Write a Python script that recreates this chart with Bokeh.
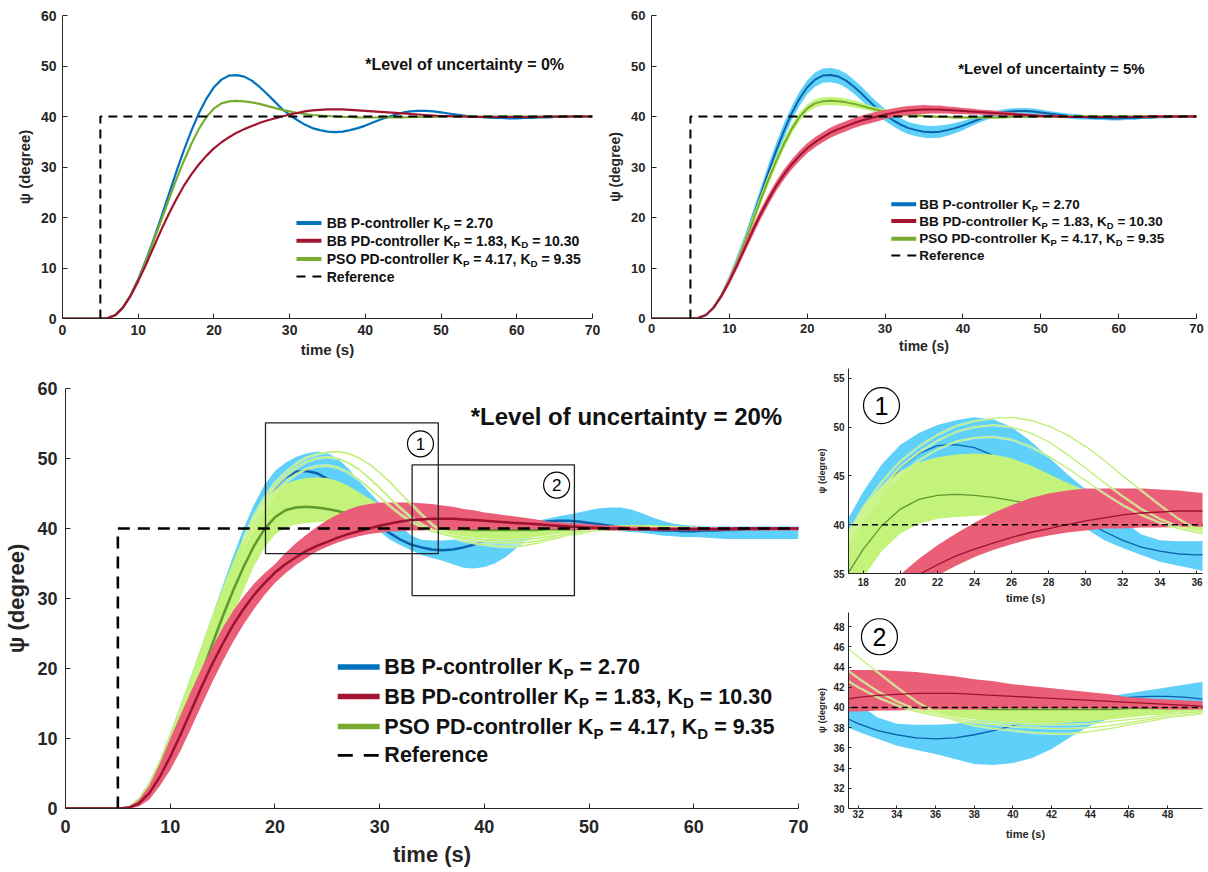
import numpy as np
from bokeh.plotting import figure
from bokeh.models import Range1d, FixedTicker, Label, BoxAnnotation
from bokeh.layouts import row, column
from bokeh.embed import file_html
from bokeh.resources import INLINE

FONT = "Liberation Sans"

# ---------------- data ----------------
time_s = list(range(71))

blue_nom = [0,0,0,0,0,0, 0.1,0.7,2.2,4.6,7.8, 11.5,15.5,19.9,24.4,28.9, 33.2,37.1,40.6,43.5,45.8,
            47.3,48.1,48.2,47.9,47.1, 45.9,44.5,43.0,41.5,40.3, 39.3,38.4,37.7,37.3,37.0,
            36.9,37.0,37.3,37.7,38.2, 38.8,39.4,39.9,40.4,40.8, 41.0,41.1,41.1,41.0,40.8,
            40.6,40.4,40.2,40.0,39.9, 39.8,39.7,39.7,39.6,39.6, 39.7,39.7,39.8,39.8,39.9,
            39.9,40.0,40.0,40.0,40.0]
red_nom = [0,0,0,0,0,0, 0.1,0.7,2.2,4.5,7.4, 10.6,14.0,17.4,20.6,23.5, 26.2,28.5,30.5,32.2,33.7,
           34.9,35.9,36.8,37.5,38.1, 38.7,39.2,39.6,40.0,40.4, 40.7,41.0,41.2,41.3,41.4,
           41.4,41.4,41.3,41.2,41.1, 41.0,40.9,40.8,40.7,40.6, 40.5,40.4,40.3,40.2,40.1,
           40.1,40.0,40.0,39.9,39.9, 39.9,39.9,39.9,39.9,39.9, 39.9,39.9,39.9,40.0,40.0,
           40.0,40.0,40.0,40.0,40.0]
green_nom = [0,0,0,0,0,0, 0.1,0.7,2.2,4.6,7.7, 11.3,15.2,19.3,23.4,27.4, 31.1,34.5,37.5,39.9,41.6,
             42.6,43.0,43.1,43.0,42.8, 42.5,42.1,41.7,41.3,41.0, 40.7,40.5,40.3,40.2,40.1,
             40.0,39.9,39.9,39.8,39.8, 39.8,39.8,39.8,39.8,39.8, 39.9,39.9,39.9,39.9,40.0,
             40.0,40.0,40.0,40.0,40.0, 40.0,40.0,40.0,40.0,40.0, 40.0,40.0,40.0,40.0,40.0,
             40.0,40.0,40.0,40.0,40.0]

# 5 % uncertainty: half-width of the bands
blue_spread5 = [0,0,0,0,0,0, 0.05,0.2,0.4,0.6,0.8, 1.0,1.1,1.3,1.4,1.5, 1.5,1.5,1.4,1.4,1.4,
                1.4,1.4,1.4,1.4,1.4, 1.4,1.4,1.3,1.3,1.2, 1.2,1.2,1.2,1.2,1.2, 1.2,1.2,1.1,1.0,0.9,
                0.8,0.7,0.6,0.6,0.6, 0.6,0.6,0.6,0.6,0.6, 0.5,0.5,0.5,0.5,0.5, 0.4,0.4,0.4,0.4,0.4,
                0.4,0.4,0.3,0.3,0.3, 0.3,0.3,0.3,0.3,0.3]
red_spread5 = [0,0,0,0,0,0, 0.05,0.15,0.3,0.5,0.7, 0.8,0.9,1.0,1.0,1.0, 1.0,1.0,1.0,1.0,1.0,
               1.0,1.0,1.0,1.0,1.0, 1.0,1.0,1.0,1.0,0.9, 0.9,0.9,0.9,0.9,0.9, 0.8,0.8,0.7,0.7,0.6,
               0.6,0.5,0.5,0.5,0.4, 0.4,0.3,0.3,0.3,0.3, 0.2,0.2,0.2,0.2,0.2, 0.2,0.2,0.2,0.2,0.2,
               0.2,0.2,0.2,0.2,0.2, 0.2,0.2,0.2,0.2,0.2]
green_spread5 = [0,0,0,0,0,0, 0.05,0.15,0.3,0.5,0.7, 0.8,0.9,1.0,1.0,1.0, 1.0,1.0,0.9,0.9,0.8,
                 0.8,0.8,0.8,0.8,0.7, 0.7,0.6,0.5,0.5,0.4, 0.4,0.3,0.3,0.3,0.2, 0.2,0.2,0.2,0.2,0.2,
                 0.2,0.2,0.2,0.2,0.2, 0.2,0.2,0.2,0.2,0.2, 0.2,0.2,0.2,0.2,0.2, 0.2,0.2,0.2,0.2,0.2,
                 0.2,0.2,0.2,0.2,0.2, 0.2,0.2,0.2,0.2,0.2]

# 20 % uncertainty: envelopes
blue20_hi = [0,0,0,0,0,0, 0.3,1.5,3.8,7.0,10.8, 14.8,19.0,23.3,27.5,31.8, 36.0,40.0,43.4,46.2,48.2,
             49.4,50.2,50.7,51.0,50.8, 50.0,48.6,46.9,45.2,43.6, 41.8,40.4,39.0,38.4,38.3,
             38.3,38.4,38.7,39.0,39.4, 39.9,40.2,40.5,40.8,41.1, 41.4,41.7,42.0,42.3,42.6,
             42.9,43.0,43.0,42.7,42.2, 41.6,41.1,40.7,40.5,40.4, 40.3,40.3,40.3,40.3,40.3,
             40.3,40.3,40.3,40.3,40.3]
blue20_lo = [0,0,0,0,0,0, 0.0,0.4,1.5,3.5,6.5, 9.8,13.5,17.5,21.5,25.5, 29.5,33.5,37.0,39.8,41.8,
             43.2,44.0,44.4,44.4,44.0, 43.2,42.2,41.2,40.3,39.6, 38.4,37.6,36.9,36.2,35.8,
             35.4,34.9,34.4,34.3,34.5, 35.0,35.9,37.1,38.2,38.9, 39.3,39.5,39.6,39.6,39.7,
             39.7,39.7,39.6,39.5,39.4, 39.2,39.0,38.9,38.8,38.8, 38.7,38.6,38.5,38.5,38.5,
             38.5,38.5,38.5,38.5,38.5]
green20_hi = [0,0,0,0,0,0, 0.3,1.5,3.8,7.0,10.8, 14.8,19.0,23.3,27.5,31.5, 35.3,38.8,41.8,44.0,45.5,
              46.4,46.9,47.2,47.3,47.2, 46.8,46.1,45.2,44.3,43.5, 42.8,42.1,41.5,41.0,40.7,
              40.5,40.4,40.3,40.2,40.2, 40.2,40.2,40.2,40.2,40.2, 40.2,40.2,40.2,40.2,40.3,
              40.3,40.4,40.5,40.5,40.5, 40.5,40.4,40.4,40.3,40.3, 40.2,40.2,40.2,40.2,40.2,
              40.2,40.2,40.2,40.2,40.2]
green20_lo = [0,0,0,0,0,0, 0.0,0.3,1.3,3.2,5.8, 8.8,12.2,15.8,19.6,23.4, 27.3,31.2,34.6,37.3,39.1,
              40.1,40.6,40.8,40.9,41.0, 41.0,40.9,40.8,40.6,40.4, 40.2,40.0,39.9,39.8,39.6,
              39.3,39.0,38.8,38.6,38.5, 38.4,38.4,38.5,38.6,38.8, 39.0,39.2,39.3,39.4,39.5,
              39.6,39.7,39.7,39.8,39.8, 39.9,39.9,39.9,39.9,39.9, 39.9,39.9,39.9,39.9,39.9,
              39.9,39.9,39.9,39.9,39.9]
red20_hi = [0,0,0,0,0,0, 0.2,1.2,3.3,6.4,10.0, 13.4,16.8,20.0,23.0,25.8, 28.2,30.3,32.1,33.6,34.9,
            36.5,37.9,39.1,40.2,41.2, 42.0,42.7,43.2,43.5,43.7, 43.7,43.7,43.7,43.6,43.5,
            43.3,43.1,42.8,42.6,42.3, 42.1,41.9,41.7,41.5,41.3, 41.0,40.9,40.8,40.7,40.6,
            40.5,40.4,40.4,40.3,40.3, 40.2,40.2,40.2,40.2,40.2, 40.2,40.2,40.2,40.2,40.2,
            40.2,40.2,40.2,40.2,40.2]
red20_lo = [0,0,0,0,0,0, 0.0,0.3,1.3,3.2,5.5, 8.3,11.5,14.8,18.0,21.0, 23.8,26.3,28.5,30.5,32.2,
            33.6,34.8,35.8,36.7,37.4, 38.0,38.5,38.9,39.2,39.4, 39.6,39.6,39.7,39.7,39.8,
            39.8,39.8,39.8,39.9,39.9, 39.9,39.9,39.9,39.9,39.9, 39.9,39.9,39.8,39.8,39.8,
            39.8,39.7,39.7,39.7,39.7, 39.7,39.7,39.7,39.7,39.7, 39.7,39.7,39.7,39.7,39.7,
            39.7,39.7,39.7,39.7,39.7]

# a few individual PSO runs that stand out from the 20 % band
time_runs = list(range(17, 51))
pso_run1 = [38.5,41.8,44.4,46.5,48.0, 49.2,50.1,50.6,50.9,51.0, 50.7,50.1,49.2,48.0,46.6,
            45.0,43.5,42.0,40.6,39.5, 38.7,38.2,37.9,37.7,37.5, 37.4,37.4,37.6,37.9,38.3,
            38.6,39.0,39.2,39.4]
pso_run2 = [38.0,41.2,43.8,45.9,47.4, 48.6,49.5,50.0,50.2,50.0, 49.4,48.5,47.2,45.8,44.3,
            42.9,41.6,40.6,39.8,39.2, 38.8,38.5,38.3,38.1,38.0, 37.9,37.9,38.0,38.2,38.5,
            38.8,39.1,39.3,39.5]
pso_run3 = [37.5,40.6,43.1,45.1,46.6, 47.7,48.5,48.9,49.0,48.7, 48.0,47.0,45.8,44.5,43.2,
            42.0,41.0,40.2,39.6,39.2, 38.9,38.7,38.5,38.4,38.3, 38.3,38.3,38.4,38.6,38.8,
            39.0,39.3,39.5,39.6]

ref_time = [5, 5, 70]
ref_angle = [0, 40, 40]

legend_entries = [
    [("BB P-controller K", False), ("P", True), (" = 2.70", False)],
    [("BB PD-controller K", False), ("P", True), (" = 1.83, K", False), ("D", True), (" = 10.30", False)],
    [("PSO PD-controller K", False), ("P", True), (" = 4.17, K", False), ("D", True), (" = 9.35", False)],
    [("Reference", False)],
]

# ---------------- helpers ----------------
AW = {' ': 278, '%': 889, '(': 333, ')': 333, '*': 389, ',': 278, '-': 333, '.': 278, '=': 584,
      'B': 722, 'D': 722, 'K': 722, 'L': 611, 'O': 778, 'P': 667, 'R': 722, 'S': 667,
      'a': 556, 'c': 556, 'e': 556, 'f': 333, 'i': 278, 'l': 278, 'n': 611, 'o': 611,
      'r': 389, 't': 333, 'u': 611, 'v': 556, 'y': 556}


def tw(s, size):
    return sum(AW.get(c, 556) for c in s) * size / 1000.0


def rich(p, x, y, parts, size):
    off = 0.0
    for txt, sub in parts:
        s = size * 0.7 if sub else size
        lead = len(txt) - len(txt.lstrip(' '))
        off += tw(' ' * lead, s)
        body = txt.strip(' ')
        p.add_layout(Label(x=x, y=y, x_offset=off, y_offset=(-0.3 * size if sub else 0),
                           text=body, text_font=FONT, text_font_size=f"{s:.1f}px",
                           text_font_style="bold", text_color="#111111",
                           text_baseline="middle", text_align="left"))
        off += tw(body, s)


def mkfig(w, h, xr, yr, bl, br, bt, bb):
    p = figure(width=w, height=h, x_range=Range1d(*xr), y_range=Range1d(*yr),
               output_backend="svg", toolbar_location=None,
               min_border_left=bl, min_border_right=br, min_border_top=bt, min_border_bottom=bb)
    p.outline_line_color = None
    p.xgrid.visible = False
    p.ygrid.visible = False
    p.background_fill_color = "white"
    p.border_fill_color = "white"
    return p


def style(p, xticks, yticks, tick_px, xlab_px, ylab_px, tick_in=5,
          xstand=6, ystand=6, xlab_stand=3, ylab_stand=5):
    p.xaxis.ticker = FixedTicker(ticks=xticks)
    p.yaxis.ticker = FixedTicker(ticks=yticks)
    p.xaxis.axis_label = "time (s)"
    p.yaxis.axis_label = "ψ (degree)"
    for ax, lab_px, stand, lstand in ((p.xaxis[0], xlab_px, xstand, xlab_stand),
                                      (p.yaxis[0], ylab_px, ystand, ylab_stand)):
        ax.axis_line_color = "#262626"
        ax.axis_line_width = 1
        ax.major_tick_line_color = "#262626"
        ax.major_tick_in = tick_in
        ax.major_tick_out = 0
        ax.minor_tick_line_color = None
        ax.major_label_text_font = FONT
        ax.major_label_text_font_style = "bold"
        ax.major_label_text_font_size = f"{tick_px}px"
        ax.major_label_text_color = "#262626"
        ax.major_label_standoff = stand
        ax.axis_label_text_font = FONT
        ax.axis_label_text_font_style = "bold"
        ax.axis_label_text_font_size = f"{lab_px}px"
        ax.axis_label_text_color = "#262626"
        ax.axis_label_standoff = lstand


def legend(p, key_x0, key_x1, text_x, rows_y, size, colors, lw, dash, dash_w):
    for i, parts in enumerate(legend_entries):
        if i < 3:
            p.line([key_x0, key_x1], [rows_y[i], rows_y[i]], line_color=colors[i], line_width=lw)
        else:
            p.line([key_x0, key_x1], [rows_y[i], rows_y[i]], line_color="black",
                   line_width=dash_w, line_dash=dash)
        rich(p, text_x, rows_y[i], parts, size)


def circled(p, x, y, txt, size, font_px):
    p.scatter([x], [y], marker="circle", size=size, fill_color=None,
              line_color="black", line_width=1.2)
    p.add_layout(Label(x=x, y=y, text=txt, text_font=FONT, text_font_size=f"{font_px}px",
                       text_align="center", text_baseline="middle", text_color="black"))


t = np.array(time_s, dtype=float)
bn, rn, gn = (np.array(a) for a in (blue_nom, red_nom, green_nom))
bs, rs, gs = (np.array(a) for a in (blue_spread5, red_spread5, green_spread5))

C_BLUE, C_RED, C_GREEN = "#0072BD", "#A2142F", "#77AC30"
B_BLUE, B_RED, B_GREEN = "#5ED0FA", "#EB5E77", "#C4F37B"
D_BLUE, D_RED, D_GREEN = "#0B62AA", "#9C1230", "#5E9A2E"

# ---------------- panel 1 : 0 % ----------------
p1 = mkfig(600, 360, (0, 70), (0, 60), 62, 8, 14, 42)
style(p1, list(range(0, 71, 10)), list(range(0, 61, 10)), 14, 15, 15)
p1.line(t, bn, line_color=C_BLUE, line_width=2.2)
p1.line(t, gn, line_color=C_GREEN, line_width=2.2)
p1.line(t, rn, line_color=C_RED, line_width=2.2)
p1.line(ref_time, ref_angle, line_color="black", line_width=2, line_dash="9 6")
p1.add_layout(Label(x=40.0, y=50.3, text="*Level of uncertainty = 0%", text_font=FONT,
                    text_font_size="16px", text_font_style="bold", text_color="#111111",
                    text_baseline="middle"))
legend(p1, 30.9, 34.2, 34.9, [18.9, 15.4, 11.8, 8.3], 14, [C_BLUE, C_RED, C_GREEN], 4, "9 7", 2)

# ---------------- panel 2 : 5 % ----------------
p2 = mkfig(608, 360, (0, 70), (0, 60), 51, 12, 15, 38)
style(p2, list(range(0, 71, 10)), list(range(0, 61, 10)), 13, 14, 14, xstand=5, xlab_stand=2)
p2.varea(x=t, y1=bn - bs, y2=bn + bs, fill_color=B_BLUE)
p2.line(t, bn, line_color=D_BLUE, line_width=2)
p2.varea(x=t, y1=gn - gs, y2=gn + gs, fill_color=B_GREEN)
p2.line(t, gn, line_color=C_GREEN, line_width=2)
p2.varea(x=t, y1=rn - rs, y2=rn + rs, fill_color=B_RED)
p2.line(t, rn, line_color=D_RED, line_width=2)
p2.line(ref_time, ref_angle, line_color="black", line_width=2, line_dash="9 6")
p2.add_layout(Label(x=39.4, y=49.5, text="*Level of uncertainty = 5%", text_font=FONT,
                    text_font_size="15px", text_font_style="bold", text_color="#111111",
                    text_baseline="middle"))
legend(p2, 30.8, 34.0, 34.4, [22.6, 19.3, 15.8, 12.5], 13.5, [C_BLUE, C_RED, C_GREEN], 4, "9 7", 2)


def draw20(p, lw_nom, lw_run):
    p.varea(x=t, y1=blue20_lo, y2=blue20_hi, fill_color=B_BLUE)
    p.line(t, bn, line_color=D_BLUE, line_width=lw_nom)
    p.varea(x=t, y1=green20_lo, y2=green20_hi, fill_color=B_GREEN)
    p.line(t, gn, line_color=D_GREEN, line_width=lw_nom)
    p.varea(x=t, y1=red20_lo, y2=red20_hi, fill_color=B_RED)
    for run in (pso_run1, pso_run2, pso_run3):
        p.line(time_runs, run, line_color="white", line_width=lw_run * 1.8, line_alpha=0.6)
        p.line(time_runs, run, line_color="#BDF070", line_width=lw_run)
    p.line(t, rn, line_color=D_RED, line_width=lw_nom)


# ---------------- panel 3 : 20 % ----------------
p3 = mkfig(810, 512, (0, 70), (0, 60), 65, 12, 28, 64)
style(p3, list(range(0, 71, 10)), list(range(0, 61, 10)), 18, 22, 22,
      xstand=11, ystand=8, xlab_stand=6, ylab_stand=5)
draw20(p3, 2.5, 1.6)
p3.line(ref_time, ref_angle, line_color="black", line_width=2.6, line_dash="12 8")
p3.add_layout(BoxAnnotation(left=19.1, right=35.6, bottom=36.4, top=55.1, fill_alpha=0,
                            line_color="#222222", line_alpha=1.0, line_width=1.3))
p3.add_layout(BoxAnnotation(left=33.1, right=48.6, bottom=30.4, top=49.1, fill_alpha=0,
                            line_color="#222222", line_alpha=1.0, line_width=1.3))
circled(p3, 33.9, 52.1, "1", 26, 17)
circled(p3, 46.9, 46.2, "2", 26, 17)
p3.add_layout(Label(x=38.7, y=56.0, text="*Level of uncertainty = 20%", text_font=FONT,
                    text_font_size="24px", text_font_style="bold", text_color="#111111",
                    text_baseline="middle"))
legend(p3, 26.0, 30.0, 30.45, [20.2, 16.0, 11.7, 7.6], 21.5, [C_BLUE, C_RED, C_GREEN], 5.5,
       "15 11", 2.8)

# ---------------- panel 4 : zoom 1 ----------------
p4 = mkfig(398, 250, (17.2, 36.3), (35, 56), 34, 6, 8, 37)
style(p4, list(range(18, 37, 2)), [35, 40, 45, 50, 55], 10, 11, 9, tick_in=3,
      xstand=4, ystand=4, xlab_stand=3, ylab_stand=3)
draw20(p4, 1.3, 1.3)
p4.line(ref_time, ref_angle, line_color="black", line_width=1.6, line_dash="6 4")
circled(p4, 18.98, 52.2, "1", 36, 25)

# ---------------- panel 5 : zoom 2 ----------------
p5 = mkfig(398, 262, (31.5, 49.8), (30, 49.4), 38, 5, 2, 64)
style(p5, list(range(32, 49, 2)), list(range(30, 49, 2)), 10, 11, 9, tick_in=3,
      xstand=1, ystand=4, xlab_stand=7, ylab_stand=3)
draw20(p5, 1.3, 1.3)
p5.line(ref_time, ref_angle, line_color="black", line_width=1.6, line_dash="6 4")
circled(p5, 33.1, 47.0, "2", 36, 25)

layout = column(row(p1, p2, spacing=0),
                row(p3, column(p4, p5, spacing=0), spacing=0), spacing=0)

open("out.html", "w").write(file_html(layout, INLINE))
